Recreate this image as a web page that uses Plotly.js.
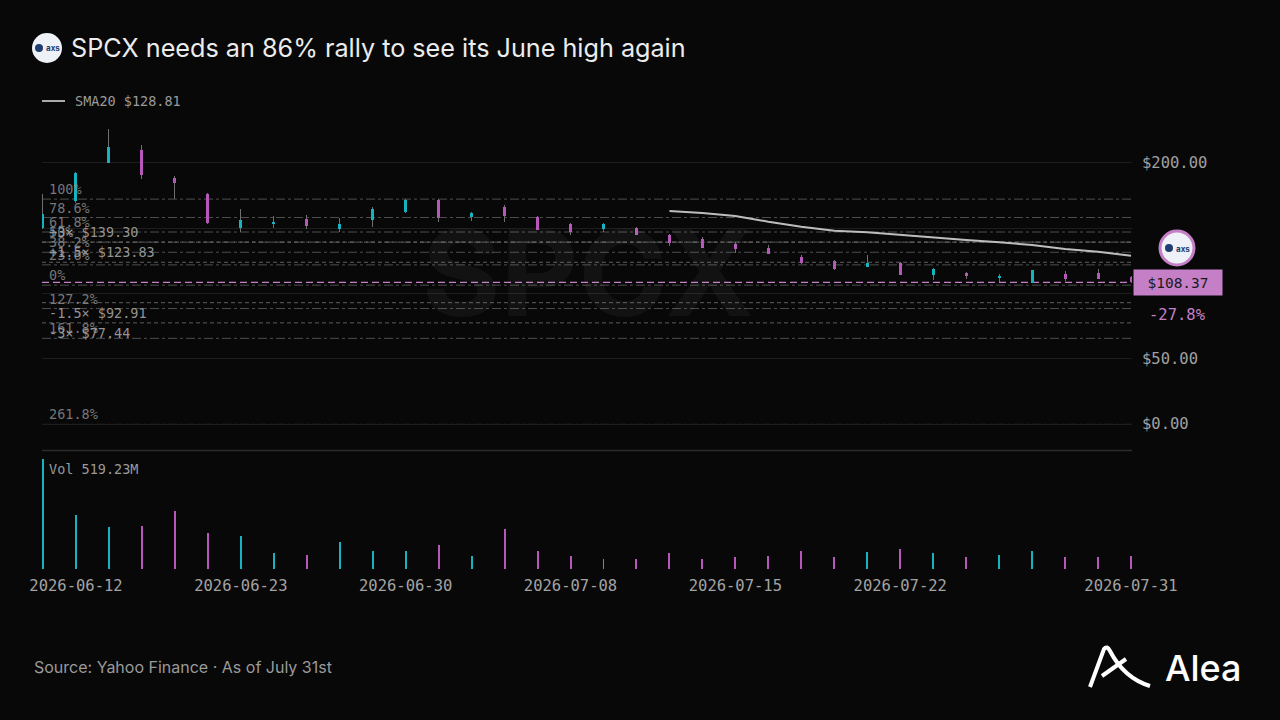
<!DOCTYPE html>
<html>
<head>
<meta charset="utf-8">
<script src="https://cdn.plot.ly/plotly-3.0.1.min.js"></script>
<style>html,body{margin:0;padding:0;background:#080808;}#chart{width:1280px;height:720px;}</style>
</head>
<body>
<div id="chart"></div>
<script>
// ---------- data ----------
const dates = ['2026-06-11','2026-06-12','2026-06-15','2026-06-16','2026-06-17','2026-06-18','2026-06-23','2026-06-24','2026-06-25','2026-06-26','2026-06-29','2026-06-30','2026-07-01','2026-07-02','2026-07-06','2026-07-07','2026-07-08','2026-07-09','2026-07-10','2026-07-13','2026-07-14','2026-07-15','2026-07-16','2026-07-17','2026-07-20','2026-07-21','2026-07-22','2026-07-23','2026-07-24','2026-07-27','2026-07-28','2026-07-29','2026-07-30','2026-07-31'];
const opens  = [150.1,171.0,200.1,209.8,188.6,176.1,149.8,153.0,157.0,149.1,156.2,162.1,171.5,158.7,166.4,158.7,152.9,149.3,150.3,144.7,141.4,137.6,135.0,127.6,125.0,120.4,123.5,114.1,115.9,111.6,107.7,114.6,115.4,112.8];
const highs  = [176.1,193.0,225.9,213.6,189.9,176.5,164.9,159.3,160.3,158.0,165.9,172.3,172.3,162.1,167.7,159.0,153.7,153.7,150.5,145.3,143.4,139.6,137.1,129.4,125.5,129.4,124.0,119.2,116.6,114.6,118.0,117.4,118.4,113.0];
const lows   = [149.3,169.5,200.0,187.4,172.0,153.0,147.2,149.8,149.3,147.2,151.1,161.3,154.9,155.7,154.9,148.3,144.7,147.2,144.5,136.5,135.0,131.2,130.2,122.5,118.2,120.4,113.8,110.3,110.8,109.0,107.7,109.7,110.8,108.0];
const closes = [160.8,192.4,212.3,190.7,184.3,153.7,156.2,154.9,151.8,153.1,164.6,171.5,157.5,161.6,159.3,148.5,147.2,152.9,144.7,138.4,135.0,134.0,130.2,123.0,118.7,123.5,114.1,118.7,113.3,113.3,117.9,111.0,111.0,108.37];
const volumesM = [519.23,256,197,203,274,171,156,77,65,127,85,85,112,61,190,86,61,49,49,74,49,58,61,86,58,80,94,77,58,66,85,57,58,61];
const smaDates = dates.slice(19);
const smaValues = [163.1,161.6,159.3,154.9,151.1,148.0,146.8,144.7,142.9,140.9,139.1,137.1,134.0,131.9,128.81];
const fibLabels = ['100%','78.6%','61.8%','50%','38.2%','23.6%','0%','127.2%','161.8%','261.8%'];
const fibPrices = [172.2,158.1,147.0,139.25,131.5,121.85,106.3,88.4,65.6,-0.3];
const sigmaLabels = ['+3×','+1.5×','-1.5×','-3×'];
const sigmaPrices = [139.30,123.83,92.91,77.44];
const lastPrice = 108.37;
const changeText = '-27.8%';
const smaLabel = 'SMA20 $128.81';
const volLabel = 'Vol 519.23M';
const yTickVals = [0,50,100,150,200];
const yTickText = ['$0.00','$50.00','','','$200.00'];
const xTickDates = ['2026-06-12','2026-06-23','2026-06-30','2026-07-08','2026-07-15','2026-07-22','2026-07-31'];
const titleText = 'SPCX needs an 86% rally to see its June high again';
const sourceText = 'Source: Yahoo Finance · As of July 31st';

// ---------- style ----------
const UP = '#14b3be', DOWN = '#b658b9', PINK = '#c47fc7';
const MONO = 'DejaVu Sans Mono, monospace';
const SANS = 'Inter, Noto Sans, sans-serif';
const X = p => p / 1280, Y = p => 1 - p / 720;

const dirColors = closes.map((c, i) => c >= opens[i] ? UP : DOWN);

const traces = [
  { type: 'bar', x: dates, base: lows, y: highs.map((h, i) => h - lows[i]), width: 0.03,
    marker: { color: '#6f6f6f', line: { width: 0 } }, xaxis: 'x', yaxis: 'y', hoverinfo: 'skip' },
  { type: 'bar', x: dates, base: opens.map((o, i) => Math.min(o, closes[i])),
    y: opens.map((o, i) => Math.abs(closes[i] - o)), width: 0.09,
    marker: { color: dirColors, line: { width: 0 } }, xaxis: 'x', yaxis: 'y', hoverinfo: 'skip' },
  { type: 'scatter', mode: 'lines', x: smaDates, y: smaValues, line: { color: '#bdbdbd', width: 2 },
    xaxis: 'x', yaxis: 'y', hoverinfo: 'skip' },
  { type: 'bar', x: dates, y: volumesM, width: 0.06, marker: { color: dirColors, line: { width: 0 } },
    xaxis: 'x', yaxis: 'y2', hoverinfo: 'skip' }
];

const shapes = [];
const annotations = [];

// fib lines + labels
fibPrices.forEach((p, i) => {
  shapes.push({ type: 'line', layer: 'between', xref: 'paper', yref: 'y', x0: X(42), x1: X(1132), y0: p, y1: p,
    line: { color: 'rgba(125,125,125,0.6)', width: 1, dash: 'dashdot' } });
  annotations.push({ xref: 'paper', yref: 'y', x: X(47), y: p, xanchor: 'left', yanchor: 'bottom',
    text: fibLabels[i], showarrow: false, font: { family: MONO, size: 13.5, color: 'rgba(140,140,140,0.85)' } });
});
// sigma lines + labels
sigmaPrices.forEach((p, i) => {
  shapes.push({ type: 'line', layer: 'between', xref: 'paper', yref: 'y', x0: X(42), x1: X(1132), y0: p, y1: p,
    line: { color: 'rgba(150,150,150,0.6)', width: 1, dash: '4px,3px' } });
  annotations.push({ xref: 'paper', yref: 'y', x: X(47), y: p, xanchor: 'left', yanchor: p > lastPrice ? 'bottom' : 'top',
    text: sigmaLabels[i] + ' $' + p.toFixed(2), showarrow: false,
    font: { family: MONO, size: 13.5, color: 'rgba(165,165,165,0.9)' } });
});
// current price line
shapes.push({ type: 'line', layer: 'between', xref: 'paper', yref: 'y', x0: X(42), x1: X(1132), y0: lastPrice, y1: lastPrice,
  line: { color: PINK, width: 1.2, dash: '7px,4px' } });
// separator
shapes.push({ type: 'line', xref: 'paper', yref: 'paper', x0: X(42), x1: X(1132), y0: Y(450.5), y1: Y(450.5),
  line: { color: '#2b2b2b', width: 1.5 } });
// SMA legend line
shapes.push({ type: 'line', xref: 'paper', yref: 'paper', x0: X(42), x1: X(65), y0: Y(101), y1: Y(101),
  line: { color: '#aaaaaa', width: 2 } });
// title logo
shapes.push({ type: 'circle', xref: 'paper', yref: 'paper', x0: X(32), x1: X(62), y0: Y(63), y1: Y(33),
  fillcolor: '#eef1f7', line: { width: 0 } });
shapes.push({ type: 'circle', xref: 'paper', yref: 'paper', x0: X(35), x1: X(43), y0: Y(52), y1: Y(44),
  fillcolor: '#1f3d6e', line: { width: 0 } });
// right logo with pink ring
shapes.push({ type: 'circle', xref: 'paper', yref: 'paper', x0: X(1160), x1: X(1194), y0: Y(265), y1: Y(231),
  fillcolor: '#eef1f7', line: { color: PINK, width: 3 } });
shapes.push({ type: 'circle', xref: 'paper', yref: 'paper', x0: X(1165), x1: X(1173), y0: Y(252), y1: Y(244),
  fillcolor: '#1f3d6e', line: { width: 0 } });
// Alea icon
shapes.push({ type: 'path', xref: 'paper', yref: 'paper',
  path: `M${X(1090)},${Y(687)} L${X(1104)},${Y(649)} Q${X(1107)},${Y(645)} ${X(1110)},${Y(651)} Q${X(1124)},${Y(678)} ${X(1150)},${Y(686)}`,
  line: { color: '#ffffff', width: 4 } });
shapes.push({ type: 'path', xref: 'paper', yref: 'paper',
  path: `M${X(1102)},${Y(676)} L${X(1126)},${Y(659)}`,
  line: { color: '#ffffff', width: 4 } });

annotations.push(
  { xref: 'paper', yref: 'paper', x: X(588), y: Y(272), text: 'SPCX', showarrow: false,
    font: { family: SANS, size: 120, weight: 700, color: 'rgba(255,255,255,0.045)' } },
  { xref: 'paper', yref: 'paper', x: X(69), y: Y(48), xanchor: 'left', yanchor: 'middle', text: titleText, showarrow: false,
    font: { family: SANS, size: 25.2, color: '#ececec' } },
  { xref: 'paper', yref: 'paper', x: X(44), y: Y(48.5), xanchor: 'left', yanchor: 'middle', text: '<b>axs</b>', showarrow: false,
    font: { family: SANS, size: 8, color: '#1f3d6e' } },
  { xref: 'paper', yref: 'paper', x: X(1174), y: Y(248.5), xanchor: 'left', yanchor: 'middle', text: '<b>axs</b>', showarrow: false,
    font: { family: SANS, size: 8, color: '#1f3d6e' } },
  { xref: 'paper', yref: 'paper', x: X(73), y: Y(101), xanchor: 'left', yanchor: 'middle', text: smaLabel, showarrow: false,
    font: { family: MONO, size: 13.5, color: '#9a9a9a' } },
  { xref: 'paper', yref: 'paper', x: X(47), y: Y(469), xanchor: 'left', yanchor: 'middle', text: volLabel, showarrow: false,
    font: { family: MONO, size: 13.5, color: '#9a9a9a' } },
  { xref: 'paper', yref: 'y', x: X(1133), y: lastPrice, xanchor: 'left', yanchor: 'middle', text: '$' + lastPrice.toFixed(2),
    showarrow: false, bgcolor: PINK, width: 84, height: 21, borderpad: 2, align: 'center',
    font: { family: MONO, size: 14.5, color: '#1a1a1a' } },
  { xref: 'paper', yref: 'paper', x: X(1177), y: Y(315), xanchor: 'center', yanchor: 'middle', text: changeText, showarrow: false,
    font: { family: MONO, size: 15.5, color: PINK } },
  { xref: 'paper', yref: 'paper', x: X(32), y: Y(667), xanchor: 'left', yanchor: 'middle', text: sourceText, showarrow: false,
    font: { family: SANS, size: 16, color: '#9a9a9a' } },
  { xref: 'paper', yref: 'paper', x: X(1163), y: Y(668), xanchor: 'left', yanchor: 'middle', text: 'Alea', showarrow: false,
    font: { family: SANS, size: 36, weight: 500, color: '#ffffff' } }
);

const layout = {
  width: 1280, height: 720,
  margin: { l: 0, r: 0, t: 0, b: 0, pad: 0 },
  paper_bgcolor: '#080808', plot_bgcolor: '#080808',
  showlegend: false, barmode: 'overlay', bargap: 0,
  xaxis: {
    type: 'category', domain: [X(42), X(1132)], anchor: 'y2', range: [-0.03, 33.03],
    tickmode: 'array', tickvals: xTickDates, ticktext: xTickDates,
    tickfont: { family: MONO, size: 15.5, color: '#a3a3a3' },
    showgrid: false, zeroline: false, showline: false, ticks: '', ticklabelstandoff: 5, fixedrange: true
  },
  yaxis: {
    domain: [Y(450), Y(118)], range: [-19.9, 234.3], anchor: 'x', side: 'right',
    tickmode: 'array', tickvals: yTickVals, ticktext: yTickText,
    tickfont: { family: MONO, size: 15.5, color: '#a0a0a0' },
    gridcolor: '#1d1d1d', gridwidth: 1, zeroline: false, showline: false, ticks: '', ticklabelstandoff: 9, fixedrange: true
  },
  yaxis2: {
    domain: [Y(569), Y(459)], range: [0, 519.23], anchor: 'x',
    showticklabels: false, showgrid: false, zeroline: false, showline: false, fixedrange: true
  },
  shapes: shapes,
  annotations: annotations
};

Plotly.newPlot('chart', traces, layout, { displayModeBar: false, staticPlot: true });
</script>
</body>
</html>
